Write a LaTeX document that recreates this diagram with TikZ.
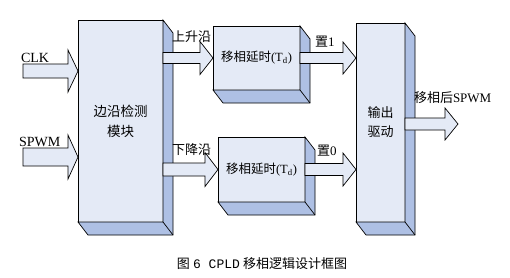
\documentclass[tikz,border=0pt]{standalone}
\usepackage{fontspec}
\setmainfont{Liberation Serif}
\newfontfamily\cjk{Noto Sans CJK SC}
\newfontfamily\monof{Liberation Mono}
\usetikzlibrary{calc}
\definecolor{facec}{RGB}{228,234,246}
\definecolor{sidec}{RGB}{174,192,228}
\tikzset{
  front/.style={draw=black, fill=facec, line width=0.7pt, inner sep=0pt, outer sep=0pt, align=center},
  sidef/.style={draw=black, fill=sidec, line width=0.7pt, line join=miter},
  arr/.style={draw=black, fill=facec, line width=0.7pt, line join=miter},
  lbl/.style={inner sep=0pt, outer sep=0pt},
}
\newcommand{\bevelbox}[1]{%
  \filldraw[sidef] (#1.north east) -- ++(10,13) -- ($(#1.south east)+(10,13)$) -- ($(#1.south west)+(10,13)$) -- (#1.south west) -- (#1.south east) -- cycle;
  \draw[line width=0.7pt] (#1.south east) -- ++(10,13);}
% #1 start, #2 tip, #3 shaft half, #4 head half, #5 head length
\newcommand{\myarrow}[5]{%
  \path[arr] let \p1=(#1), \p2=(#2) in
    (\x1,{\y2+#3}) -- ({\x2-#5},{\y2+#3}) -- ({\x2-#5},{\y2+#4}) -- (\x2,\y2) --
    ({\x2-#5},{\y2-#4}) -- ({\x2-#5},{\y2-#3}) -- (\x1,{\y2-#3}) -- cycle;}
\begin{document}
\begin{tikzpicture}[x=1pt,y=-1pt]
\useasboundingbox (0,0) rectangle (510,277);
% blocks
\node[front, minimum width=85pt, minimum height=202pt, font=\cjk\fontsize{13.5}{20}\selectfont] (edge) at (120.5,121)
  {边沿检测\\ 模块};
\node[front, minimum width=87pt, minimum height=64pt, font=\fontsize{12.5}{14}\selectfont] (d1) at (256.5,58)
  {{\cjk 移相延时}(T\textsubscript{d})};
\node[front, minimum width=87pt, minimum height=65pt, font=\fontsize{12.5}{14}\selectfont] (d2) at (261.5,169.5)
  {{\cjk 移相延时}(T\textsubscript{d})};
\node[front, minimum width=49pt, minimum height=199pt, font=\cjk\fontsize{13}{19}\selectfont] (drv) at (380.5,122.5)
  {输出\\ 驱动};
\bevelbox{edge}
\bevelbox{d1}
\bevelbox{d2}
\bevelbox{drv}
% input coordinates
\coordinate (clkin) at (23,71);
\coordinate (spwmin) at (23,157);
\coordinate (outend) at (458,124);
% arrows
\myarrow{clkin}{edge.west |- clkin}{7pt}{21pt}{10pt}
\myarrow{spwmin}{edge.west |- spwmin}{9pt}{22pt}{10pt}
\myarrow{edge.east |- d1.west}{d1.west}{5.5pt}{16.5pt}{13pt}
\myarrow{edge.east |- d2.west}{d2.west}{6.5pt}{17pt}{13pt}
\myarrow{d1.east}{drv.west |- d1.east}{5.5pt}{16pt}{13pt}
\myarrow{d2.east}{drv.west |- d2.east}{6pt}{16.5pt}{13pt}
\myarrow{drv.east |- outend}{outend}{6pt}{16pt}{13pt}
% labels
\node[lbl, anchor=base west] (lclk) at (21,62) {\fontsize{14}{16}\selectfont CLK};
\node[lbl, anchor=base west] (lspwm) at (19,146) {\fontsize{14}{16}\selectfont SPWM};
\node[lbl, anchor=west] (lup) at (172,37) {\fontsize{13}{15}\cjk 上升沿};
\node[lbl, anchor=west] (ldown) at (172,150) {\fontsize{13}{15}\cjk 下降沿};
\node[lbl, anchor=west] (lset1) at (315,42) {\fontsize{13}{15}\selectfont{\cjk 置}1};
\node[lbl, anchor=west] (lset0) at (317,151) {\fontsize{13}{15}\selectfont{\cjk 置}0};
\node[lbl, anchor=west] (lout) at (414,98) {\fontsize{13}{15}\selectfont{\cjk 移相后}SPWM};
\node[lbl] (cap) at (262,264) {\fontsize{13}{15}\selectfont{\cjk 图} {\monof 6 CPLD} {\cjk 移相逻辑设计框图}};
\end{tikzpicture}
\end{document}
